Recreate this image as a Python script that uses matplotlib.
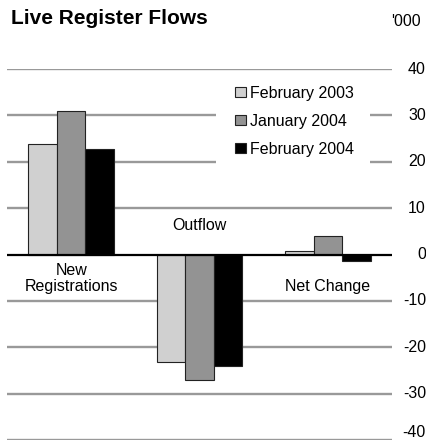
import matplotlib
matplotlib.use("Agg")
import matplotlib.pyplot as plt
import numpy as np
from matplotlib.transforms import blended_transform_factory
from matplotlib.patches import Rectangle

plt.rcParams['font.family'] = ['Liberation Sans', 'DejaVu Sans']

categories = ["New\nRegistrations", "Outflow", "Net Change"]
series_names = ["February 2003", "January 2004", "February 2004"]
feb_2003 = [23.9, -23.2, 0.8]
jan_2004 = [30.9, -27.0, 3.9]
feb_2004 = [22.7, -24.1, -1.5]
yticks = [40, 30, 20, 10, 0, -10, -20, -30, -40]
ytick_labels = ["40", "30", "20", "10", "0", "-10", "-20", "-30", "-40"]
colors = ["#d0d0d0", "#939393", "#000000"]

W, H = 427, 441
FS = 11.5
fig = plt.figure(figsize=(W / 100, H / 100), dpi=100)
ax = fig.add_axes([7 / W, 1 / H, 385 / W, 371 / H])

x = np.arange(len(categories))
bw = 0.223
for i, (vals, name, c) in enumerate(zip([feb_2003, jan_2004, feb_2004], series_names, colors)):
    ax.bar(x + (i - 1) * bw, vals, width=bw, color=c, edgecolor="#222222",
           linewidth=0.8, label=name, zorder=3)

for t in yticks:
    if t == 0:
        ax.axhline(t, color="black", linewidth=1.6, zorder=4)
    else:
        ax.axhline(t, color="#999999", linewidth=1.7, zorder=1)

ax.set_xlim(-0.5, 2.5)
ax.set_ylim(-40, 40)
ax.axis("off")

# white panel behind legend (hides gridlines as in reference)
ax.add_patch(Rectangle((216 / W, 1 - 175 / H), 154 / W, 95 / H,
                       transform=fig.transFigure, facecolor="white",
                       edgecolor="none", zorder=2, clip_on=False))

trans = blended_transform_factory(fig.transFigure, ax.transData)
for t, lab in zip(yticks, ytick_labels):
    va = "bottom" if t == yticks[-1] else "center"
    ax.text(426 / W, t, lab, transform=trans, ha="right", va=va,
            fontsize=FS, clip_on=False)

# category labels (positions in pixels -> data)
def px2y(py):
    return (255 - py) / (371 / 80)

ax.text(x[0], px2y(291), categories[0], ha="center", va="baseline", fontsize=FS,
        linespacing=1.05)
ax.text(x[1], px2y(230), categories[1], ha="center", va="baseline", fontsize=FS)
ax.text(x[2], px2y(292), categories[2], ha="center", va="baseline", fontsize=FS)

fig.text(11 / W, 1 - 24 / H, "Live Register Flows", fontsize=15, fontweight="bold",
         ha="left", va="baseline")
fig.text(391 / W, 1 - 26 / H, "'000", fontsize=FS, ha="left", va="baseline")

leg = ax.legend(loc="upper left", bbox_to_anchor=(235 / W, 1 - 86 / H),
                bbox_transform=fig.transFigure,
                frameon=False, fontsize=FS, handlelength=0.7, handleheight=0.6,
                handletextpad=0.25, labelspacing=0.8, borderpad=0,
                borderaxespad=0)
leg.set_zorder(5)

fig.savefig("out.png", dpi=100)
